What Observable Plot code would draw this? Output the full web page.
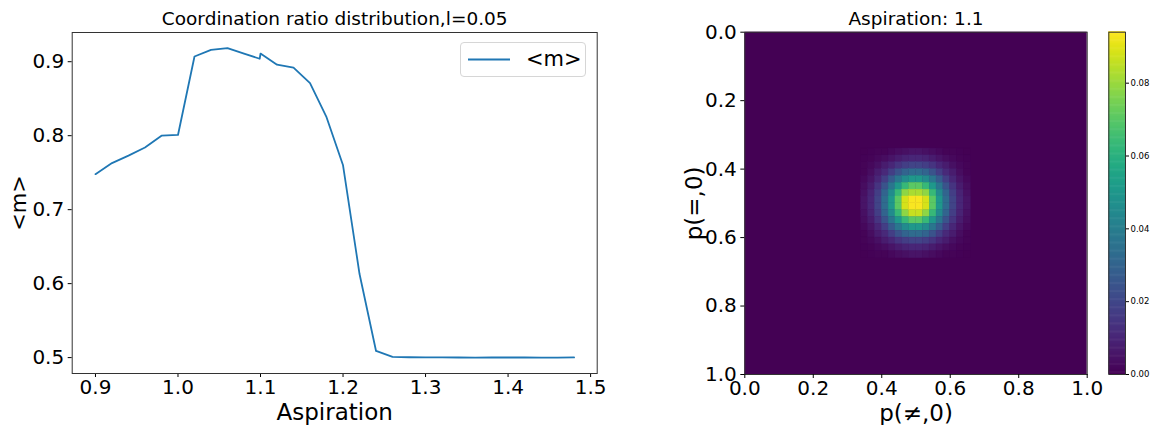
<!DOCTYPE html>
<html>
<head>
<meta charset="utf-8">
<script src="https://cdn.jsdelivr.net/npm/d3@7"></script>
<script src="https://cdn.jsdelivr.net/npm/@observablehq/plot@0.6"></script>
<style>
  html, body { margin: 0; padding: 0; background: white; }
  #root { position: relative; width: 1160px; height: 425px; overflow: hidden; font-family: "DejaVu Sans", sans-serif; }
  #root > svg, #root > figure { position: absolute; top: 0; }
  .legend { position: absolute; left: 460px; top: 42px; width: 126px; height: 35px; border: 1px solid #d6d6d6; border-radius: 4px; background: rgba(255,255,255,0.85); box-sizing: border-box; }
  .legend svg { position: absolute; left: 6px; top: 0; }
  .legend span { position: absolute; left: 65px; top: 4px; font-size: 21px; line-height: 24px; color: #000; }
</style>
</head>
<body>
<div id="root"></div>
<script>
// ---- Left panel data: <m> versus aspiration ----
const aspiration = [0.90, 0.92, 0.94, 0.96, 0.98, 1.00, 1.02, 1.04, 1.06, 1.08, 1.099, 1.10, 1.12, 1.14, 1.16, 1.18, 1.20, 1.22, 1.24, 1.26, 1.28, 1.30, 1.32, 1.34, 1.36, 1.38, 1.40, 1.42, 1.44, 1.46, 1.48];
const meanM = [0.748, 0.763, 0.773, 0.784, 0.800, 0.801, 0.907, 0.916, 0.9185, 0.911, 0.904, 0.911, 0.896, 0.892, 0.871, 0.825, 0.760, 0.613, 0.509, 0.501, 0.5005, 0.5003, 0.5002, 0.5001, 0.5000, 0.5001, 0.5001, 0.5001, 0.5000, 0.5000, 0.5002];
const leftXTicks = [0.9, 1.0, 1.1, 1.2, 1.3, 1.4, 1.5];
const leftYTicks = [0.5, 0.6, 0.7, 0.8, 0.9];
const leftTitle = "Coordination ratio distribution,l=0.05";
const leftXLabel = "Aspiration";
const leftYLabel = "<m>";
const legendLabel = "<m>";

// ---- Right panel data: 50x50 distribution, non-zero block rows/cols 17..32 ----
const gridSize = 50;
const blockStart = 17;
const heatBlock = [
  [0.0002,0.0005,0.001,0.001,0.002,0.003,0.004,0.005,0.005,0.004,0.003,0.002,0.001,0.001,0.0005,0.0002],
  [0.0005,0.001,0.002,0.003,0.005,0.007,0.009,0.010,0.010,0.009,0.007,0.005,0.003,0.002,0.001,0.0005],
  [0.001,0.002,0.004,0.007,0.010,0.014,0.017,0.019,0.019,0.017,0.014,0.010,0.007,0.004,0.002,0.001],
  [0.001,0.003,0.007,0.011,0.017,0.024,0.030,0.033,0.033,0.030,0.024,0.017,0.011,0.007,0.003,0.001],
  [0.002,0.005,0.010,0.017,0.027,0.037,0.045,0.050,0.050,0.045,0.037,0.027,0.017,0.010,0.005,0.002],
  [0.003,0.007,0.014,0.024,0.037,0.050,0.063,0.070,0.070,0.063,0.050,0.037,0.024,0.014,0.007,0.003],
  [0.004,0.009,0.017,0.030,0.045,0.063,0.078,0.082,0.082,0.078,0.063,0.045,0.030,0.017,0.009,0.004],
  [0.005,0.010,0.019,0.033,0.050,0.070,0.088,0.093,0.093,0.088,0.070,0.050,0.033,0.019,0.010,0.005],
  [0.005,0.010,0.019,0.033,0.050,0.070,0.088,0.093,0.093,0.088,0.070,0.050,0.033,0.019,0.010,0.005],
  [0.004,0.009,0.017,0.030,0.045,0.063,0.078,0.086,0.086,0.078,0.063,0.045,0.030,0.017,0.009,0.004],
  [0.003,0.007,0.014,0.024,0.037,0.050,0.063,0.070,0.070,0.063,0.050,0.037,0.024,0.014,0.007,0.003],
  [0.002,0.005,0.010,0.017,0.027,0.037,0.045,0.050,0.050,0.045,0.037,0.027,0.017,0.010,0.005,0.002],
  [0.001,0.003,0.007,0.011,0.017,0.024,0.030,0.033,0.033,0.030,0.024,0.017,0.011,0.007,0.003,0.001],
  [0.001,0.002,0.004,0.007,0.010,0.014,0.017,0.019,0.019,0.017,0.014,0.010,0.007,0.004,0.002,0.001],
  [0.0005,0.001,0.002,0.003,0.005,0.007,0.009,0.010,0.010,0.009,0.007,0.005,0.003,0.002,0.001,0.0005],
  [0.0002,0.0005,0.001,0.001,0.002,0.003,0.004,0.005,0.005,0.004,0.003,0.002,0.001,0.001,0.0005,0.0002]
];
const heatTicks = [0, 0.2, 0.4, 0.6, 0.8, 1.0];
const colorMax = 0.094;
const cbarTicks = [0.00, 0.02, 0.04, 0.06, 0.08];
const rightTitle = "Aspiration: 1.1";
const rightXLabel = "p(\u2260,0)";
const rightYLabel = "p(=,0)";

// ---- build tables ----
const lineData = aspiration.map((a, i) => ({a, m: meanM[i]}));
const cells = [];
heatBlock.forEach((row, i) => row.forEach((v, j) => {
  const r = blockStart + i, c = blockStart + j;
  cells.push({x1: c / gridSize, x2: (c + 1) / gridSize, y1: r / gridSize, y2: (r + 1) / gridSize, v});
}));
const background = [{x1: 0, x2: 1, y1: 0, y2: 1, v: 0}];
const cbarStops = d3.range(0, colorMax, colorMax / 300).map(v => ({v, v2: v + colorMax / 300 * 1.5}));

const baseStyle = {fontFamily: "DejaVu Sans, sans-serif", fontSize: "20px", color: "#000", background: "transparent", overflow: "visible"};
const fmt1 = d3.format(".1f");
const fmt2 = d3.format(".2f");
const root = document.getElementById("root");
const colorScale = {type: "linear", scheme: "viridis", domain: [0, colorMax]};
const lbl = {lineAnchor: "middle", textAnchor: "middle"};

// ---- left panel ----
const left = Plot.plot({
  width: 620, height: 425,
  marginLeft: 71.7, marginRight: 23.3, marginTop: 32, marginBottom: 52,
  style: baseStyle,
  x: {domain: [0.8718, 1.508]},
  y: {domain: [0.4785, 0.9395]},
  marks: [
    Plot.axisX({ticks: leftXTicks, tickFormat: fmt1, tickSize: 4, tickPadding: 2, label: null}),
    Plot.axisY({ticks: leftYTicks, tickFormat: fmt1, tickSize: 4, tickPadding: 4, label: null}),
    Plot.line(lineData, {x: "a", y: "m", stroke: "#1f77b4", strokeWidth: 1.8}),
    Plot.frame({stroke: "#333", strokeWidth: 1}),
    Plot.text([leftTitle], {...lbl, frameAnchor: "top", dy: -13, fontSize: 18.5}),
    Plot.text([leftXLabel], {...lbl, frameAnchor: "bottom", dy: 39, fontSize: 23}),
    Plot.text([leftYLabel], {...lbl, frameAnchor: "left", dx: -53, rotate: -90, fontSize: 21})
  ]
});
left.style.left = "0px";
root.appendChild(left);

// ---- right heatmap ----
const heat = Plot.plot({
  width: 460, height: 425,
  marginLeft: 104.3, marginRight: 13.3, marginTop: 31.7, marginBottom: 51,
  style: baseStyle,
  x: {domain: [0, 1]},
  y: {domain: [0, 1], reverse: true},
  color: colorScale,
  marks: [
    Plot.rect(background, {x1: "x1", x2: "x2", y1: "y1", y2: "y2", fill: "v"}),
    Plot.rect(cells, {x1: "x1", x2: "x2", y1: "y1", y2: "y2", fill: "v", stroke: "v", strokeWidth: 0.4}),
    Plot.frame({stroke: "#333", strokeWidth: 1}),
    Plot.axisX({ticks: heatTicks, tickFormat: fmt1, tickSize: 4, tickPadding: 2, label: null}),
    Plot.axisY({ticks: heatTicks, tickFormat: fmt1, tickSize: 4, tickPadding: 4, label: null}),
    Plot.text([rightTitle], {...lbl, frameAnchor: "top", dy: -13, fontSize: 18.5}),
    Plot.text([rightXLabel], {...lbl, frameAnchor: "bottom", dy: 39, fontSize: 23}),
    Plot.text([rightYLabel], {...lbl, frameAnchor: "left", dx: -50, rotate: -90, fontSize: 23})
  ]
});
heat.style.left = "640px";
root.appendChild(heat);

// ---- colorbar ----
const cbar = Plot.plot({
  width: 60, height: 425,
  marginLeft: 8.3, marginRight: 35, marginTop: 31.7, marginBottom: 51,
  style: baseStyle,
  x: {domain: [0, 1], axis: null},
  y: {domain: [0, colorMax]},
  color: colorScale,
  marks: [
    Plot.rect(cbarStops, {x1: 0, x2: 1, y1: "v", y2: "v2", fill: "v"}),
    Plot.frame({stroke: "#333", strokeWidth: 1}),
    Plot.axisY({anchor: "right", ticks: cbarTicks, tickFormat: fmt2, tickSize: 3, tickPadding: 2, fontSize: 8.5, label: null})
  ]
});
cbar.style.left = "1100px";
root.appendChild(cbar);

// ---- legend for left panel ----
const leg = document.createElement("div");
leg.className = "legend";
leg.innerHTML = '<svg width="50" height="35"><line x1="1" x2="43" y1="16.5" y2="16.5" stroke="#1f77b4" stroke-width="1.8"/></svg>';
const legText = document.createElement("span");
legText.textContent = legendLabel;
leg.appendChild(legText);
root.appendChild(leg);
</script>
</body>
</html>
